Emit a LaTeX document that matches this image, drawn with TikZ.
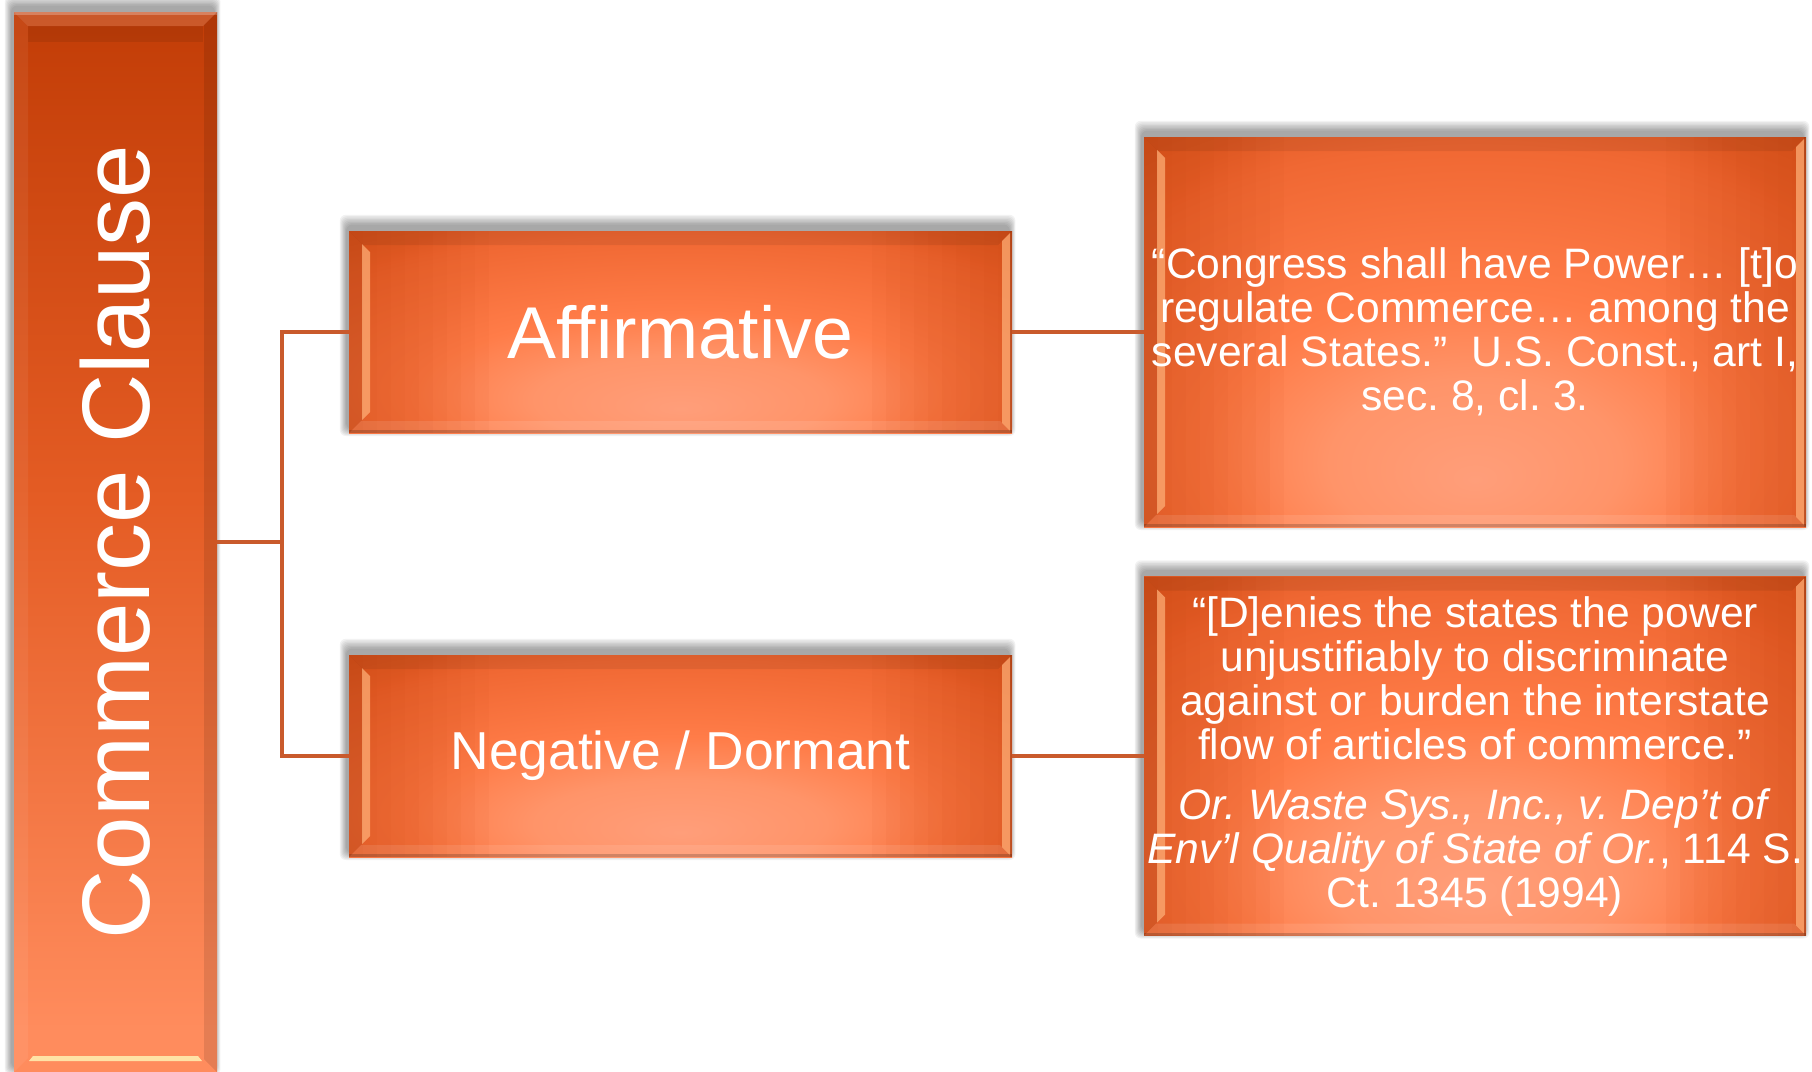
\documentclass[tikz,border=0pt]{standalone}
\usepackage{fontspec}
\setmainfont{Liberation Sans}
\usetikzlibrary{calc}
\frenchspacing

% palette
\definecolor{glowA}{HTML}{FF9E7A}
\definecolor{glowB}{HTML}{FF9469}
\definecolor{glowC}{HTML}{FF7C48}
\definecolor{glowD}{HTML}{F06833}
\definecolor{glowE}{HTML}{D9551E}
\definecolor{glowF}{HTML}{C8440E}
\definecolor{colTop}{HTML}{C23D07}
\definecolor{colMid}{HTML}{E45C24}
\definecolor{colBot}{HTML}{FF8C5D}
\definecolor{bevelHi}{HTML}{FFB27A}
\definecolor{creamHi}{HTML}{FFE2A6}
\definecolor{linkcol}{HTML}{C95A2C}

% fills of the panels (the path covers the central 50bp square)
\pgfdeclareradialshading{panelglow}{\pgfpoint{0bp}{-19bp}}{%
  color(0bp)=(glowA); color(11bp)=(glowB); color(20bp)=(glowC);
  color(36bp)=(glowD); color(46bp)=(glowE); color(52bp)=(glowF);
  color(100bp)=(glowF)}
\pgfdeclareverticalshading{columnfill}{100bp}{%
  color(0bp)=(colBot); color(27bp)=(colBot); color(52bp)=(colMid);
  color(75bp)=(colTop); color(100bp)=(colTop)}

\pgfdeclarelayer{shade}
\pgfsetlayers{shade,main}

\tikzset{
  % slanted bevel and darker side edges, drawn inside a panel under its text
  bevelled/.style={path picture={
    \coordinate (bNW) at (path picture bounding box.north west);
    \coordinate (bSE) at (path picture bounding box.south east);
    \coordinate (bNE) at (bNW -| bSE);
    \coordinate (bSW) at (bSE -| bNW);
    \foreach \i in {1,...,10}{
      \fill[glowF, opacity=.05] (bNW) rectangle ($(bSW)+(14*\i,0)$);
      \fill[glowF, opacity=.05] (bNE) rectangle ($(bSE)+(-14*\i,0)$);
    }
    \fill[black, opacity=.07] (bNW) -- (bNE) -- ($(bNE)+(-14,14)$) -- ($(bNW)+(14,14)$) -- cycle;
    \fill[black, opacity=.06] (bNW) -- ($(bNW)+(14,14)$) -- ($(bSW)+(14,-14)$) -- (bSW) -- cycle;
    \fill[bevelHi, opacity=.7] ($(bNW)+(13,13)$) -- ($(bNW)+(21,21)$) -- ($(bSW)+(21,-21)$) -- ($(bSW)+(13,-13)$) -- cycle;
    \fill[bevelHi, opacity=.7] ($(bNE)+(-2,2)$) -- ($(bSE)+(-2,-2)$) -- ($(bSE)+(-10,-10)$) -- ($(bNE)+(-10,10)$) -- cycle;
    \fill[white, opacity=.10] (bSW) -- (bSE) -- ($(bSE)+(-12,-12)$) -- ($(bSW)+(12,-12)$) -- cycle;
    \fill[black, opacity=.18] (bSW) rectangle ($(bSE)+(0,-3)$);
    \fill[black, opacity=.15] (bNE) rectangle ($(bSE)+(-2,0)$);
  }},
  columnbevel/.style={path picture={
    \coordinate (bNW) at (path picture bounding box.north west);
    \coordinate (bSE) at (path picture bounding box.south east);
    \coordinate (bNE) at (bNW -| bSE);
    \coordinate (bSW) at (bSE -| bNW);
    \fill[white, opacity=.14] (bNW) -- (bNE) -- ($(bNE)+(-14,14)$) -- ($(bNW)+(14,14)$) -- cycle;
    \fill[white, opacity=.25] (bNW) rectangle ($(bNE)+(0,3)$);
    \fill[black, opacity=.08] ($(bNW)+(14,14)$) rectangle ($(bNE)+(-14,30)$);
    \fill[white, opacity=.06] (bNW) -- ($(bNW)+(14,14)$) -- ($(bSW)+(14,-14)$) -- (bSW) -- cycle;
    \fill[black, opacity=.10] (bNE) -- ($(bNE)+(-13,13)$) -- ($(bSE)+(-13,-13)$) -- (bSE) -- cycle;
    \fill[creamHi] ($(bSW)+(19,-16)$) -- ($(bSE)+(-19,-16)$) -- ($(bSE)+(-15,-11)$) -- ($(bSW)+(15,-11)$) -- cycle;
  }},
  panel/.style={rectangle, inner sep=0pt, outer sep=0pt, text=white,
    align=center, shading=panelglow, bevelled},
  column/.style={rectangle, inner sep=0pt, outer sep=0pt, text=white,
    shading=columnfill, columnbevel},
  link/.style={draw=linkcol, line width=2.2pt},
  quotefont/.style={font=\fontsize{21.3pt}{22pt}\selectfont},
}

\begin{document}
\begin{tikzpicture}[x=0.5pt, y=-0.5pt]
\useasboundingbox (0,0) rectangle (1812,1072);

% left column
\node[column, minimum width=101.5pt, minimum height=530pt,
      font=\fontsize{48pt}{50pt}\selectfont] (clause) at (115.5,542)
  {\rotatebox{90}{Commerce Clause}\hspace{4.5pt}};

% middle panels
\node[panel, minimum width=331.5pt, minimum height=101pt,
      font=\fontsize{36.7pt}{40pt}\selectfont] (aff) at (680.5,332) {Affirmative};
\node[panel, minimum width=331.5pt, minimum height=101pt,
      font=\fontsize{26.7pt}{30pt}\selectfont] (neg) at (680.5,756) {Negative / Dormant};

% right panels
\node[panel, quotefont, minimum width=331pt, minimum height=195pt] (quoteA) at (1475,332)
  {“Congress shall have Power… [t]o\\
   regulate Commerce… among the\\
   several States.”\ \ U.S. Const., art I,\\
   sec. 8, cl. 3.};
\node[panel, quotefont, minimum width=331pt, minimum height=179.5pt] (quoteB) at (1475,756)
  {“[D]enies the states the power\\
   unjustifiably to discriminate\\
   against or burden the interstate\\
   flow of articles of commerce.”\\[8pt]
   \textit{Or. Waste Sys., Inc., v. Dep’t of}\\
   \textit{Env’l Quality of State of Or.}, 114 S.\\
   Ct. 1345 (1994)};

% connectors
\draw[link] (clause.east) -- ++(65,0) |- (aff.west);
\draw[link] (clause.east) -- ++(65,0) |- (neg.west);
\draw[link] (aff.east) -- (quoteA.west);
\draw[link] (neg.east) -- (quoteB.west);

% soft shadows behind the panels, mostly above them
\begin{pgfonlayer}{shade}
\foreach \n in {clause,aff,neg,quoteA,quoteB}{
  \foreach \k in {1,...,8}{
    \fill[black, opacity=.05, rounded corners=3pt]
      ($(\n.north west)+(-2-0.9*\k,-5-1.4*\k)$) rectangle
      ($(\n.south east)+(-3+0.8*\k,-5+1.0*\k)$);
  }
}
\end{pgfonlayer}
\end{tikzpicture}
\end{document}
